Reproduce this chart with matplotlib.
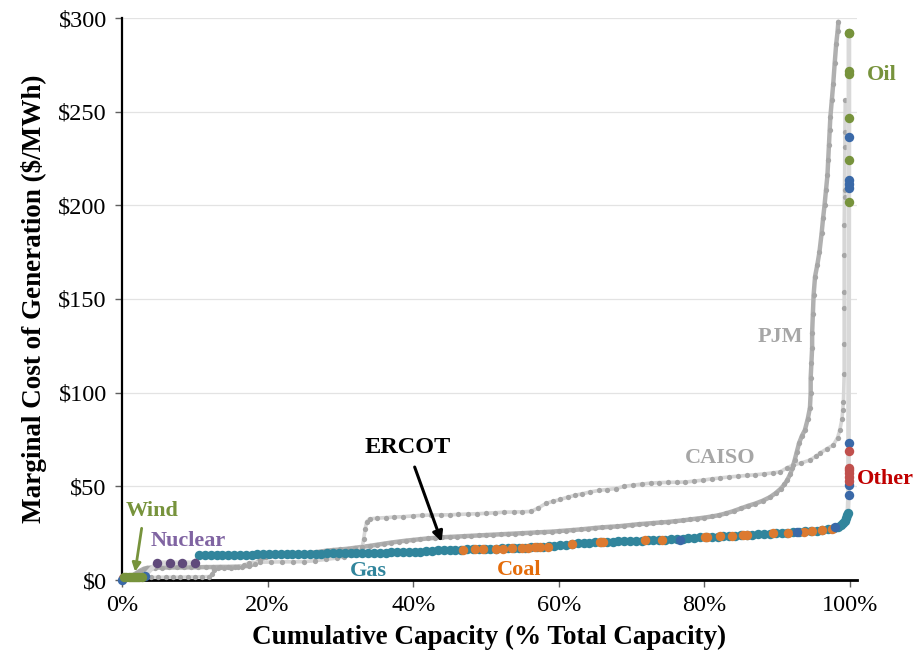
import matplotlib
matplotlib.use("Agg")
import matplotlib.pyplot as plt

plt.rcParams['font.family'] = ['Liberation Serif', 'DejaVu Serif']

# ---------------- data ----------------
x_ticks = [0, 20, 40, 60, 80, 100]
x_tick_labels = ['0%', '20%', '40%', '60%', '80%', '100%']
y_ticks = [0, 50, 100, 150, 200, 250, 300]
y_tick_labels = ['$0', '$50', '$100', '$150', '$200', '$250', '$300']

# PJM supply curve (cumulative capacity %, $/MWh)
pjm_points = [
    (0, 0), (0.5, 0.8), (1.0, 1.5), (1.5, 2.5), (2.0, 3.8), (2.5, 5.0), (3.0, 6.0), (3.5, 6.5),
    (4.0, 6.6), (4.5, 6.6), (5.5, 6.6), (6.5, 6.7), (7.5, 6.7), (8.5, 6.7), (9.5, 6.8), (10.5, 6.8),
    (11.5, 6.9), (12.5, 6.9), (13.5, 7.0), (14.5, 7.0), (15.5, 7.1), (16.5, 7.2), (17.5, 7.6),
    (18.3, 8.6), (19.0, 10.5), (19.8, 12.2), (21, 13.0), (22, 13.3), (23, 13.5), (24, 13.7),
    (25, 14.0), (26, 14.5), (27, 15.0), (28, 15.6), (29, 16.0), (30, 16.3), (31, 16.7), (32, 17.2),
    (33, 17.7), (34, 18.2), (35, 18.8), (36, 19.4), (37, 20.0), (38, 20.5), (39, 21.0), (40, 21.4),
    (41, 21.8), (42, 22.2), (43, 22.5), (44, 22.8), (45, 23.0), (46, 23.2), (47, 23.4), (48, 23.6),
    (49, 23.8), (50, 24.0), (51, 24.2), (52, 24.4), (53, 24.6), (54, 24.8), (55, 25.0), (56, 25.2),
    (57, 25.4), (58, 25.6), (59, 25.8), (60, 26.1), (61, 26.4), (62, 26.7), (63, 27.0), (64, 27.4),
    (65, 27.8), (66, 28.1), (67, 28.4), (68, 28.6), (69, 29.0), (70, 29.4), (71, 29.8), (72, 30.1),
    (73, 30.4), (74, 30.7), (75, 31.0), (76, 31.4), (77, 31.8), (78, 32.3), (79, 32.8), (80, 33.3),
    (81, 33.9), (82, 34.6), (83, 35.6), (84, 36.8), (85, 38.2), (86, 39.6), (87, 40.8), (88, 42.3),
    (89, 44.2), (89.8, 46.4), (90.5, 48.8), (91, 51), (91.4, 53.5), (91.8, 56.5), (92.1, 60),
    (92.4, 64), (92.7, 68.5), (93.0, 73), (93.4, 77), (93.8, 80), (94.2, 86), (94.5, 92),
    (94.6, 100), (94.6, 108), (94.7, 116), (94.8, 124), (94.8, 132), (94.9, 142), (95.0, 152),
    (95.2, 162), (95.5, 168), (95.8, 175), (96.1, 185), (96.3, 193), (96.5, 200), (96.7, 208),
    (96.9, 216), (97.0, 224), (97.1, 232), (97.2, 240), (97.3, 247), (97.5, 256), (97.7, 265),
    (97.9, 276), (98.1, 286), (98.3, 293), (98.4, 298),
]

# CAISO supply curve
caiso_points = [
    (0, 0), (0.4, 0.5), (1, 1.0), (2, 1.2), (3, 1.3), (4, 1.4), (5, 1.4), (6, 1.5), (7, 1.5),
    (8, 1.5), (9, 1.6), (10, 1.6), (11, 1.7), (12, 1.8), (12.4, 3.0), (12.7, 5.5), (13.2, 6.2),
    (14, 6.4), (15, 6.5), (16, 6.7), (16.8, 8.0), (17.5, 9.2), (19, 9.5), (20.5, 9.6), (22, 9.7),
    (23.5, 9.7), (25, 9.8), (26.5, 10.3), (28, 11.0), (29.5, 11.7), (30.5, 12.3), (31.5, 13.5),
    (32.3, 15.5), (33, 17.6), (33.2, 22), (33.4, 27), (33.6, 31), (34, 32.6), (35, 33.0),
    (36.2, 33.3), (37.4, 33.6), (38.6, 33.8), (40, 34.2), (41.2, 34.5), (42.5, 34.7), (43.8, 34.8),
    (45, 34.8), (46.2, 35.0), (47.5, 35.2), (48.8, 35.4), (50, 35.6), (51.2, 35.9), (52.5, 36.2),
    (53.8, 36.3), (55, 36.4), (56.2, 36.6), (57.2, 38.5), (58.3, 41.0), (59.2, 42.0), (60.2, 43.0),
    (61.2, 44.2), (62.2, 45.2), (63.2, 46.0), (64.3, 47.0), (65.5, 47.8), (66.6, 48.3), (67.8, 48.8),
    (69, 50.0), (70.2, 50.6), (71.4, 51.2), (72.6, 51.7), (73.8, 52.0), (75, 52.1), (76.2, 52.2),
    (77.4, 52.3), (78.6, 52.8), (79.8, 53.3), (81, 54.0), (82.2, 54.5), (83.4, 55.0), (84.6, 55.4),
    (85.8, 55.8), (87, 56.2), (88.2, 56.6), (89.4, 57.2), (90.4, 57.7), (91.3, 59.8), (92.2, 61.4),
    (93.3, 62.5), (94.5, 64.0), (95.3, 66.0), (95.9, 67.8), (96.8, 70.0), (97.7, 72.0), (98.3, 76.0),
    (98.6, 80.0), (98.9, 86.0), (99.0, 90.8), (99.1, 95.0), (99.2, 110), (99.2, 126), (99.2, 145),
    (99.2, 154), (99.2, 173.5), (99.2, 189.5), (99.25, 204.5), (99.25, 208), (99.3, 231),
    (99.3, 239), (99.35, 256),
]

# ERCOT by fuel type
ercot_wind_x = [0.3, 0.6, 0.9, 1.2, 1.5, 1.8, 2.1, 2.4, 2.7]
ercot_wind_y = [1.4, 1.5, 1.5, 1.5, 1.5, 1.5, 1.6, 1.6, 1.6]

ercot_nuclear_x = [4.8, 6.6, 8.2, 10.0]
ercot_nuclear_y = [9.2, 9.2, 9.2, 9.2]

ercot_gas_x = [
    10.6, 11.4, 12.2, 13.0, 13.8, 14.6, 15.4, 16.2, 17.0, 17.8,
    18.6, 19.4, 20.2, 21.0, 21.8, 22.6, 23.4, 24.2, 25.0, 25.8,
    26.6, 27.4, 28.2, 29.0, 29.8, 30.6, 31.4, 32.2, 33.0, 33.8,
    34.6, 35.4, 36.2, 37.0, 37.8, 38.6, 39.4, 40.2, 41.0, 41.8,
    42.6, 43.4, 44.2, 45.0, 45.8, 46.6, 47.4, 48.2, 49.0, 49.8,
    50.6, 51.4, 52.2, 53.0, 53.8, 54.6, 55.4, 56.2, 57.0, 57.8,
    58.6, 59.4, 60.2, 61.0, 61.8, 62.6, 63.4, 64.2, 65.0, 65.8,
    66.6, 67.4, 68.2, 69.0, 69.8, 70.6, 71.4, 72.2, 73.0, 73.8,
    74.6, 75.4, 76.2, 77.0, 77.8, 78.6, 79.4, 80.2, 81.0, 81.8,
    82.6, 83.4, 84.2, 85.0, 85.8, 86.6, 87.4, 88.2, 89.0, 89.8,
    90.6, 91.4, 92.2, 93.0, 93.8, 94.6, 95.4, 96.2, 97.0, 97.8,
    98.4, 98.8, 99.1, 99.3, 99.5, 99.6, 99.7,
]
ercot_gas_y = [
    13.3, 13.3, 13.3, 13.4, 13.4, 13.4, 13.5, 13.5, 13.6, 13.6,
    13.7, 13.7, 13.8, 13.8, 13.9, 13.9, 14.0, 14.0, 14.0, 14.1,
    14.1, 14.1, 14.2, 14.2, 14.2, 14.3, 14.3, 14.3, 14.4, 14.4,
    14.5, 14.5, 14.6, 14.7, 14.8, 14.9, 15.0, 15.1, 15.2, 15.4,
    15.6, 15.8, 15.9, 16.0, 16.1, 16.2, 16.3, 16.4, 16.5, 16.6,
    16.7, 16.8, 16.9, 17.0, 17.1, 17.2, 17.3, 17.4, 17.5, 17.7,
    17.9, 18.2, 18.5, 18.8, 19.2, 19.5, 19.8, 20.0, 20.2, 20.3,
    20.4, 20.5, 20.6, 20.7, 20.8, 20.9, 21.0, 21.1, 21.2, 21.4,
    21.5, 21.7, 21.9, 22.1, 22.3, 22.5, 22.7, 22.9, 23.0, 23.2,
    23.3, 23.5, 23.6, 23.8, 24.0, 24.2, 24.4, 24.6, 24.8, 24.9,
    25.1, 25.3, 25.5, 25.7, 25.9, 26.1, 26.3, 26.6, 27.0, 27.6,
    28.5, 29.5, 30.5, 31.5, 33.0, 34.5, 36.0,
]

ercot_coal_x = [46.8, 48.5, 49.6, 51.4, 52.3, 53.6, 54.9, 55.8, 56.7, 57.4, 58.5, 61.8, 65.7, 66.1,
                71.8, 74.2, 80.1, 80.4, 82.1, 83.8, 85.3, 85.9, 89.4, 91.5, 93.7, 94.8, 96.2, 97.5]
ercot_coal_y = [16.2, 16.3, 16.4, 16.6, 16.7, 16.9, 17.1, 17.3, 17.4, 17.6, 17.8, 19.0, 20.3, 20.4,
                21.1, 21.6, 22.9, 23.0, 23.3, 23.6, 24.0, 24.2, 24.9, 25.3, 25.8, 26.1, 26.5, 27.4]

ercot_other_blue_x = [0.05, 3.1, 76.6, 92.7, 98.0, 99.8, 99.8, 99.8, 99.85, 99.85, 99.85, 99.85]
ercot_other_blue_y = [0.2, 2.0, 21.6, 25.5, 28.3, 45.4, 50.7, 73.0, 209.0, 211.4, 213.5, 236.5]

ercot_other_red_x = [0.1, 99.8, 99.8, 99.8, 99.8, 99.8, 99.8]
ercot_other_red_y = [1.0, 53.0, 55.0, 57.0, 58.5, 60.0, 69.0]

ercot_oil_x = [99.85, 99.85, 99.85, 99.85, 99.85, 99.85, 99.85]
ercot_oil_y = [202.0, 224.0, 246.6, 270.0, 271.5, 292.0, 292.0]

# ---------------- figure ----------------
W, H = 914, 664
fig = plt.figure(figsize=(W / 100, H / 100), dpi=100)
ax = fig.add_axes([122 / W, 1 - 580 / H, (857 - 122) / W, (580 - 18) / H])
ax.set_xlim(0, 735 / 7.28)
ax.set_ylim(0, 300)

ax.set_yticks(y_ticks)
ax.set_yticklabels(y_tick_labels)
ax.set_xticks(x_ticks)
ax.set_xticklabels(x_tick_labels)
ax.yaxis.grid(True, color='#e3e3e3', lw=0.9)
ax.set_axisbelow(True)
for s in ['top', 'right']:
    ax.spines[s].set_visible(False)
ax.spines['left'].set_linewidth(1.6)
ax.spines['bottom'].set_linewidth(2.0)
ax.tick_params(axis='both', direction='out', length=5, width=1.0, color='#606060',
               labelsize=17.5, pad=6)

GRAY_LINE = '#d6d6d6'
GRAY_DOT = '#a6a6a6'

# PJM
px = [p[0] for p in pjm_points]
py = [p[1] for p in pjm_points]
ax.plot(px, py, color='#b0b0b0', lw=3.2, zorder=2, solid_capstyle='round')
ax.plot(px, py, 'o', ms=3.8, color=GRAY_DOT, mec='none', zorder=3, clip_on=False)

# CAISO
cx = [p[0] for p in caiso_points]
cy = [p[1] for p in caiso_points]
ax.plot(cx, cy, color=GRAY_LINE, lw=2.6, zorder=2)
ax.plot(cx, cy, 'o', ms=3.8, color=GRAY_DOT, mec='none', zorder=3)

# ERCOT connecting line (merit order)
ercot_all = sorted(
    list(zip(ercot_wind_x, ercot_wind_y)) + list(zip(ercot_nuclear_x, ercot_nuclear_y)) +
    list(zip(ercot_gas_x, ercot_gas_y)) + list(zip(ercot_coal_x, ercot_coal_y)) +
    list(zip(ercot_other_blue_x, ercot_other_blue_y)) + list(zip(ercot_other_red_x, ercot_other_red_y)) +
    list(zip(ercot_oil_x, ercot_oil_y)),
    key=lambda p: (p[1] if p[0] > 99.5 else 0, p[0]))
ax.plot([p[0] for p in ercot_all], [p[1] for p in ercot_all], color='#d9d9d9', lw=3.4, zorder=4)

MS = 6.8
ax.plot(ercot_gas_x, ercot_gas_y, 'o', ms=MS, color='#31859c', mec='none', zorder=5)
ax.plot(ercot_coal_x, ercot_coal_y, 'o', ms=MS, color='#dc7a30', mec='none', zorder=6)
ax.plot(ercot_nuclear_x, ercot_nuclear_y, 'o', ms=MS, color='#604a7b', mec='none', zorder=6)
ax.plot(ercot_other_red_x[:1], ercot_other_red_y[:1], 'o', ms=MS, color='#c0504d', mec='none', zorder=6, clip_on=False)
ax.plot(ercot_other_blue_x, ercot_other_blue_y, 'o', ms=MS, color='#3a69a8', mec='none', zorder=6, clip_on=False)
ax.plot(ercot_other_red_x[1:], ercot_other_red_y[1:], 'o', ms=MS, color='#c0504d', mec='none', zorder=6, clip_on=False)
ax.plot(ercot_wind_x, ercot_wind_y, 'o', ms=MS, color='#77933c', mec='none', zorder=7, clip_on=False)
ax.plot(ercot_oil_x, ercot_oil_y, 'o', ms=MS, color='#77933c', mec='none', zorder=6, clip_on=False)

# ---------------- labels ----------------
ax.set_xlabel('Cumulative Capacity (% Total Capacity)', fontsize=19.5, fontweight='bold', labelpad=6)
ax.set_ylabel('Marginal Cost of Generation ($/MWh)', fontsize=19.5, fontweight='bold', labelpad=8)

lab = dict(fontweight='bold', fontsize=16, ha='center', va='center', clip_on=False, zorder=10)
ax.text(4.1, 36.8, 'Wind', color='#77933c', **lab)
ax.text(9.1, 20.8, 'Nuclear', color='#8064a2', **lab)
ax.text(33.8, 4.8, 'Gas', color='#31859c', **lab)
ax.text(54.5, 5.3, 'Coal', color='#e46c0a', **lab)
ax.text(90.4, 129.7, 'PJM', color='#a6a6a6', **lab)
ax.text(82.1, 65.1, 'CAISO', color='#a6a6a6', **lab)
ax.text(104.4, 269.6, 'Oil', color='#77933c', **lab)
ax.text(104.9, 53.9, 'Other', color='#c00000', **lab)
ax.text(39.3, 70.5, 'ERCOT', color='black', fontweight='bold', fontsize=17.5, ha='center', va='center')

ax.annotate('', xy=(43.9, 20.4), xytext=(40.2, 60.3),
            arrowprops=dict(arrowstyle='-|>,head_length=0.6,head_width=0.3', color='black', lw=2.2,
                            shrinkA=0, shrinkB=0), zorder=11)
ax.annotate('', xy=(1.8, 4.4), xytext=(2.7, 27.6),
            arrowprops=dict(arrowstyle='-|>,head_length=0.5,head_width=0.25', color='#77933c', lw=2.0,
                            shrinkA=0, shrinkB=0), zorder=11)

fig.savefig('out.png', dpi=100)
